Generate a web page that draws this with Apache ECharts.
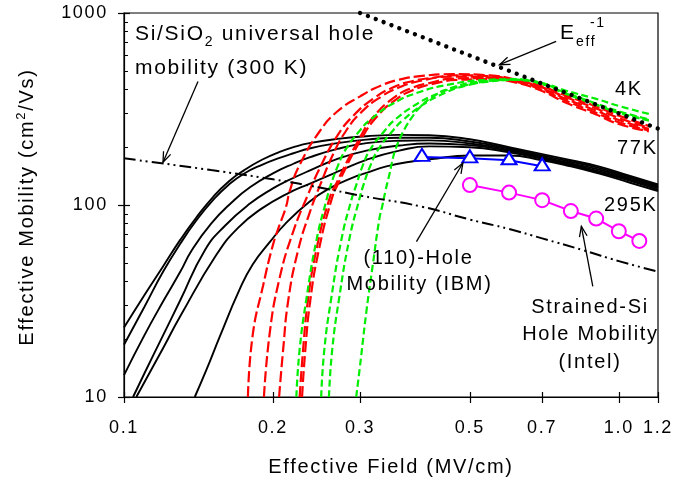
<!DOCTYPE html>
<html>
<head>
<meta charset="utf-8">
<script src="https://cdn.jsdelivr.net/npm/echarts@6/dist/echarts.min.js"></script>
<style>
  html, body { margin: 0; padding: 0; background: #fff; }
  #chart { width: 675px; height: 489px; }
</style>
</head>
<body>
<div id="chart"></div>
<script>
// Slightly wider tracking for all canvas text (also applied to the context used for measuring)
(function () {
  const orig = HTMLCanvasElement.prototype.getContext;
  HTMLCanvasElement.prototype.getContext = function (type, opts) {
    const ctx = orig.call(this, type, opts);
    if (type === '2d' && ctx && 'letterSpacing' in ctx) ctx.letterSpacing = '1.7px';
    return ctx;
  };
})();

// ---------- axes ----------
const xTicks = [0.1, 0.2, 0.3, 0.5, 0.7, 1.0, 1.2];
const yTicks = [10, 100, 1000];
const yMinorTicks = [20, 30, 40, 50, 60, 70, 80, 90, 200, 300, 400, 500, 600, 700, 800, 900];

// ---------- 77 K / 295 K family (solid black), [field MV/cm, mobility cm2/Vs] ----------
const blackA = [[0.1,23],[0.11,34],[0.12,48],[0.13,66],[0.14,86],[0.1513,110],[0.163,133],[0.175,152],[0.19,172],[0.2063,189],[0.22,200],[0.237,210],[0.27,221],[0.309,228],[0.36,232],[0.414,231],[0.5,220],[0.6,200],[0.7,184],[0.8,171],[0.91,159],[1.05,142],[1.2,128]];
const blackB = [[0.1,18.7],[0.11,29.5],[0.12,45],[0.13,63],[0.14,83],[0.1513,106],[0.163,128],[0.175,146],[0.19,162],[0.2063,176],[0.22,186],[0.237,197],[0.27,210],[0.309,219],[0.36,224],[0.414,224],[0.5,214],[0.6,197],[0.7,181],[0.8,168],[0.91,156],[1.05,140],[1.2,126]];
const blackC = [[0.1,13],[0.11,21],[0.12,31.5],[0.13,45],[0.137,58],[0.15,80],[0.165,103],[0.18,124],[0.2,146],[0.22,164],[0.237,177],[0.27,196],[0.309,210],[0.36,216],[0.414,217],[0.5,209],[0.6,194],[0.7,178],[0.8,165],[0.91,153],[1.05,138],[1.2,124]];
const blackD = [[0.1043,10],[0.11,13.3],[0.12,21],[0.13,32],[0.1456,58],[0.16,78],[0.18,102],[0.2,122],[0.213,133],[0.237,151],[0.27,174],[0.309,192],[0.36,204],[0.414,209],[0.5,205],[0.6,191],[0.7,176],[0.8,163],[0.91,150],[1.05,136],[1.2,122]];
const blackE = [[0.1059,10],[0.12,18],[0.13,26.4],[0.1537,55],[0.17,76],[0.19,96],[0.213,114],[0.237,129],[0.27,149],[0.309,172],[0.36,192],[0.414,202],[0.5,200],[0.6,188],[0.7,174],[0.8,161],[0.91,148],[1.05,134],[1.2,120]];
const blackF = [[0.139,10],[0.147,14],[0.156,20.5],[0.171,36],[0.182,49],[0.197,64],[0.212,80],[0.237,104],[0.26,122],[0.29,139],[0.309,147],[0.339,159],[0.39,170],[0.414,173],[0.5,181],[0.6,181],[0.7,171],[0.8,159],[0.91,146],[1.05,131],[1.2,118]];

// ---------- 4 K family (long-dash red) ----------
const redA = [[0.178,10],[0.182,21],[0.191,38],[0.2,62],[0.206,78],[0.2126,98],[0.2162,118],[0.226,160],[0.248,240],[0.269,305],[0.3,368],[0.33,418],[0.36,450],[0.4,470],[0.46,480],[0.55,473],[0.62,450],[0.7,415],[0.78,372],[0.9,326],[1.0,292],[1.15,258]];
const redB = [[0.1918,10],[0.197,21.5],[0.206,41],[0.2195,72],[0.235,112],[0.25,160],[0.27,230],[0.29,290],[0.32,360],[0.35,410],[0.38,440],[0.42,460],[0.47,474],[0.55,468],[0.62,446],[0.7,410],[0.78,365],[0.9,318],[1.0,284],[1.15,253]];
const redC = [[0.2058,10],[0.2097,17.6],[0.2148,32],[0.2248,58],[0.2372,91],[0.25,130],[0.265,185],[0.28,240],[0.3,300],[0.33,365],[0.36,410],[0.4,445],[0.46,466],[0.55,462],[0.62,442],[0.7,404],[0.78,358],[0.9,310],[1.0,277],[1.15,249]];
const redD = [[0.2265,10],[0.2301,17.6],[0.2354,32],[0.2446,58],[0.2596,106],[0.2687,130],[0.2994,223],[0.32,290],[0.35,360],[0.38,405],[0.42,435],[0.46,455],[0.55,458],[0.62,438],[0.7,398],[0.78,350],[0.9,302],[1.0,270],[1.15,245]];
const redE = [[0.229,10],[0.2325,17.6],[0.238,32],[0.2475,58],[0.2625,106],[0.272,132],[0.302,222],[0.325,290],[0.355,355],[0.385,398],[0.425,430],[0.47,448],[0.55,452],[0.62,434],[0.7,392],[0.78,342],[0.9,296],[1.0,264],[1.15,242]];

// ---------- 4 K family (short-dash green) ----------
const greenA = [[0.223,10],[0.2264,17.6],[0.2335,32],[0.245,66],[0.2565,106],[0.262,128],[0.27,158],[0.281,196],[0.3,245],[0.313,275],[0.35,338],[0.396,388],[0.45,422],[0.53,447],[0.62,452],[0.7,430],[0.78,385],[0.9,338],[1.0,308],[1.15,279]];
const greenB = [[0.2503,10],[0.254,17.6],[0.262,32],[0.275,66],[0.288,106],[0.295,128],[0.303,158],[0.315,196],[0.337,245],[0.351,275],[0.39,335],[0.43,380],[0.48,415],[0.55,440],[0.62,448],[0.7,428],[0.78,382],[0.9,333],[1.0,302],[1.15,275]];
const greenC = [[0.2595,10],[0.2635,17.6],[0.2718,32],[0.2852,66],[0.2986,106],[0.305,128],[0.314,158],[0.327,196],[0.35,245],[0.365,275],[0.4,330],[0.44,378],[0.49,418],[0.56,445],[0.62,450],[0.7,432],[0.78,395],[0.9,357],[1.0,328],[1.15,298]];
const greenD = [[0.2946,10],[0.2994,14],[0.309,28],[0.318,48],[0.328,84],[0.333,100],[0.338,120],[0.344,145],[0.35,178],[0.355,200],[0.361,222],[0.37,252],[0.384,292],[0.396,322],[0.42,365],[0.454,404],[0.53,440],[0.62,448],[0.7,426],[0.78,380],[0.9,333],[1.0,303],[1.15,277]];

// ---------- universal (300 K) curve and E_eff^-1 reference ----------
const universalX = [0.1, 0.15, 0.2, 0.25, 0.3, 0.4, 0.5, 0.6, 0.7, 0.85, 1.0, 1.2];
const universalY = [175, 152, 136, 123, 112, 98, 84, 75, 67, 58, 51, 45];
const inverseX = [0.3, 1.2];
const inverseY = [1000, 250];

// ---------- measured points ----------
const ibmX = [0.4, 0.5, 0.6, 0.7];
const ibmY = [178, 175, 171, 159];
const intelX = [0.5, 0.6, 0.7, 0.8, 0.9, 1.0, 1.1];
const intelY = [127, 116, 106, 93, 85, 73, 65];

const FONT = '"Liberation Sans", Arial, Helvetica, sans-serif';
const zip = (xs, ys) => xs.map((x, i) => [x, ys[i]]);

function curve(data, color, dash, width, z) {
  return {
    type: 'line', data, symbol: 'none', showSymbol: false, silent: true,
    smooth: 0.5, z: z || 2,
    lineStyle: { color, width, type: dash }
  };
}

const series = [];
[blackA, blackB, blackC, blackD, blackE, blackF].forEach(d => series.push(curve(d, '#000', 'solid', 1.9, 2)));
[redA, redB, redC, redD, redE].forEach(d => series.push(curve(d, '#ff0000', [11, 4], 2.2, 3)));
[greenA, greenB, greenC, greenD].forEach(d => series.push(curve(d, '#00ee00', [7, 3.5], 2.2, 4)));
series.push(curve(zip(universalX, universalY), '#000', [12, 4, 2, 4, 2, 4], 2, 5));
series.push({
  type: 'line', data: zip(inverseX, inverseY), symbol: 'none', silent: true, clip: false, z: 6,
  lineStyle: { color: '#000', width: 4.4, type: [0.001, 8.4], cap: 'round' }
});
series.push({
  type: 'line', data: zip(ibmX, ibmY), symbol: 'triangle', symbolSize: [15, 12], symbolOffset: [0, -2],
  silent: true, z: 7, lineStyle: { color: '#0000ff', width: 2 },
  itemStyle: { color: '#fff', borderColor: '#0000ff', borderWidth: 2 }
});
series.push({
  type: 'line', data: zip(intelX, intelY), symbol: 'circle', symbolSize: 14,
  silent: true, z: 7, lineStyle: { color: '#ff00ff', width: 2 },
  itemStyle: { color: '#fff', borderColor: '#ff00ff', borderWidth: 2 }
});

const tickLine = { color: '#000', width: 1.2 };
function xAx(extra) {
  return Object.assign({ type: 'log', logBase: 10, min: 0.1, max: 1.2, position: 'bottom',
    splitLine: { show: false }, minorTick: { show: false }, minorSplitLine: { show: false } }, extra);
}
function yAx(extra) {
  return Object.assign({ type: 'log', logBase: 10, min: 10, max: 1000, position: 'left',
    splitLine: { show: false }, minorTick: { show: false }, minorSplitLine: { show: false } }, extra);
}

const option = {
  animation: false,
  backgroundColor: '#fff',
  grid: { left: 124, right: 17, top: 13, bottom: 92, show: true, borderColor: '#000', borderWidth: 1.2,
          containLabel: false, outerBoundsMode: 'none' },
  xAxis: [
    xAx({ axisLine: { show: true, onZero: false, lineStyle: tickLine },
          axisTick: { show: true, inside: false, length: 6, customValues: xTicks, lineStyle: tickLine },
          axisLabel: { show: true, customValues: xTicks, margin: 21, color: '#000', fontSize: 18, fontFamily: FONT,
                       formatter: v => Number(v).toFixed(1) } }),
    xAx({ axisLine: { show: false },
          axisTick: { show: true, inside: true, length: 5, customValues: xTicks, lineStyle: tickLine },
          axisLabel: { show: false } })
  ],
  yAxis: [
    yAx({ axisLine: { show: true, onZero: false, lineStyle: tickLine },
          axisTick: { show: true, inside: false, length: 6, customValues: yTicks, lineStyle: tickLine },
          axisLabel: { show: true, customValues: yTicks, margin: 16, color: '#000', fontSize: 18, fontFamily: FONT,
                       formatter: v => String(Math.round(v)) } }),
    yAx({ axisLine: { show: false },
          axisTick: { show: true, inside: true, length: 6, customValues: yTicks, lineStyle: tickLine },
          axisLabel: { show: false } }),
    yAx({ axisLine: { show: false },
          axisTick: { show: true, inside: true, length: 4, customValues: yMinorTicks, lineStyle: { color: '#000', width: 1 } },
          axisLabel: { show: false } })
  ],
  series
};

const chart = echarts.init(document.getElementById('chart'), null, { renderer: 'canvas' });
chart.setOption(option);

// ---------- annotations ----------
function txt(text, x, y, size, align, extra) {
  return { type: 'text', x, y, z: 20, silent: true,
    style: Object.assign({ text, x: 0, y: 0, fill: '#000', fontSize: size, fontFamily: FONT,
                           align: align || 'left', verticalAlign: 'middle' }, extra || {}) };
}
function arrow(from, to) {
  const p0 = chart.convertToPixel({ gridIndex: 0 }, from);
  const p1 = chart.convertToPixel({ gridIndex: 0 }, to);
  const ang = Math.atan2(p1[1] - p0[1], p1[0] - p0[0]);
  const L = 11, a = 0.36;
  const h1 = [p1[0] - L * Math.cos(ang - a), p1[1] - L * Math.sin(ang - a)];
  const h2 = [p1[0] - L * Math.cos(ang + a), p1[1] - L * Math.sin(ang + a)];
  const st = { stroke: '#000', lineWidth: 1.3, fill: null };
  return [
    { type: 'line', z: 20, silent: true, shape: { x1: p0[0], y1: p0[1], x2: p1[0], y2: p1[1] }, style: st },
    { type: 'polyline', z: 20, silent: true, shape: { points: [h1, p1, h2] }, style: st }
  ];
}

// arrow anchors in data coordinates [field, mobility]
const arrowUniversal = [[0.1411, 440], [0.1199, 167]];
const arrowInverse = [[0.747, 711], [0.574, 538]];
const arrowIbm = [[0.390, 64.4], [0.484, 165.5]];
const arrowIntel = [[0.886, 37.7], [0.840, 77.4]];

const graphic = [
  txt('Si/SiO{sub|2} universal hole', 135, 34.5, 21, 'left',
      { lineHeight: 30, rich: { sub: { fontSize: 14, lineHeight: 14, verticalAlign: 'bottom', fontFamily: FONT } } }),
  txt('mobility (300 K)', 135, 68, 21, 'left'),
  txt('E', 560, 33, 21, 'left'),
  txt('eff', 576, 42.5, 14, 'left'),
  txt('-1', 590, 23, 14, 'left'),
  txt('4K', 615, 89.5, 20, 'left'),
  txt('77K', 617, 148.5, 20, 'left'),
  txt('295K', 604, 205.5, 20, 'left'),
  txt('(110)-Hole', 418.5, 258, 20, 'center'),
  txt('Mobility (IBM)', 419.5, 284.5, 20, 'center'),
  txt('Strained-Si', 590, 307.5, 20, 'center'),
  txt('Hole Mobility', 590.5, 334, 20, 'center'),
  txt('(Intel)', 590, 362, 20, 'center'),
  txt('Effective Field (MV/cm)', 391, 467.5, 20, 'center'),
  Object.assign(txt('Effective Mobility (cm{sup|2}/Vs)', 27, 207, 20, 'center',
      { lineHeight: 26, rich: { sup: { fontSize: 13, lineHeight: 13, verticalAlign: 'top', fontFamily: FONT } } }),
      { rotation: Math.PI / 2 })
].concat(arrow(...arrowUniversal), arrow(...arrowInverse), arrow(...arrowIbm), arrow(...arrowIntel));

chart.setOption({ graphic });
</script>
</body>
</html>
